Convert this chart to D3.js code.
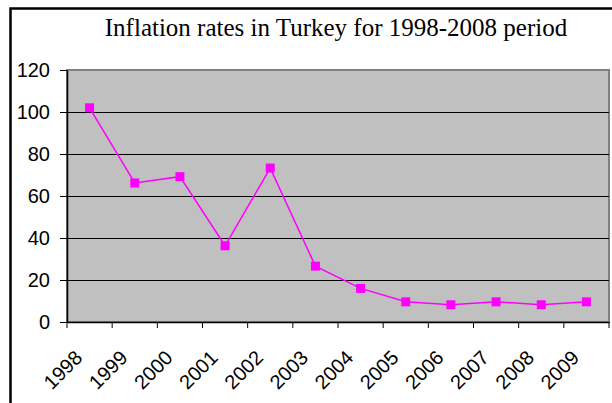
<!DOCTYPE html>
<html>
<head>
<meta charset="utf-8">
<script src="https://cdn.jsdelivr.net/npm/d3@7"></script>
<style>
  body { margin: 0; background: #fff; }
  svg { display: block; }
</style>
</head>
<body>
<div id="chart"></div>
<script>
// data
var years = ["1998", "1999", "2000", "2001", "2002", "2003", "2004", "2005", "2006", "2007", "2008", "2009"];
var inflation = [102, 66.2, 69.2, 36.3, 73.3, 26.6, 16.0, 9.6, 8.2, 9.6, 8.2, 9.6];
var yTicks = [0, 20, 40, 60, 80, 100, 120];
var title = "Inflation rates in Turkey for 1998-2008 period";

var svgWidth = 612;
var svgHeight = 403;

var margin = {
  top: 70,
  right: 3,
  bottom: 81,
  left: 67
};

var width = svgWidth - margin.left - margin.right;
var height = svgHeight - margin.top - margin.bottom;

var sans = "'Liberation Sans', Arial, sans-serif";

var svg = d3.select("#chart")
  .append("svg")
  .attr("width", svgWidth)
  .attr("height", svgHeight);

// outer chart frame (right and bottom edges fall outside the picture)
svg.append("rect")
  .attr("x", 10.5)
  .attr("y", 8.5)
  .attr("width", 640)
  .attr("height", 440)
  .attr("fill", "#fff")
  .attr("stroke", "#000")
  .attr("stroke-width", 2.5);

svg.append("text")
  .attr("x", 336)
  .attr("y", 36)
  .attr("text-anchor", "middle")
  .attr("font-family", "'Liberation Serif', 'Times New Roman', serif")
  .attr("font-size", "25px")
  .attr("fill", "#000")
  .text(title);

var chart = svg.append("g")
  .attr("transform", `translate(${margin.left}, ${margin.top})`);

// scales
var xScale = d3.scaleBand()
  .domain(years)
  .range([0, width]);

var yScale = d3.scaleLinear()
  .domain([0, 120])
  .range([height, 0]);

// plot area
chart.append("rect")
  .attr("width", width)
  .attr("height", height)
  .attr("fill", "#c0c0c0")
  .attr("stroke", "#808080")
  .attr("stroke-width", 2);

// gridlines
chart.append("g")
  .selectAll("line")
  .data(yTicks.filter(d => d > 0 && d < 120))
  .enter()
  .append("line")
  .attr("x1", 0)
  .attr("x2", width)
  .attr("y1", d => Math.round(yScale(d)) + 0.5)
  .attr("y2", d => Math.round(yScale(d)) + 0.5)
  .attr("stroke", "#000")
  .attr("stroke-width", 1.2);

// left axis
var leftAxis = d3.axisLeft(yScale)
  .tickValues(yTicks)
  .tickSize(7)
  .tickPadding(10)
  .tickSizeOuter(0);

var yAxis = chart.append("g")
  .call(leftAxis);
yAxis.select(".domain").attr("stroke", "#000").attr("stroke-width", 1.5);
yAxis.selectAll(".tick line").attr("stroke", "#000");
yAxis.selectAll("text")
  .attr("font-family", sans)
  .attr("font-size", "20px")
  .attr("fill", "#000");

// bottom axis, ticks between the categories
var bottomAxis = d3.axisBottom(xScale)
  .tickSize(0)
  .tickFormat("");

var xAxis = chart.append("g")
  .attr("transform", `translate(0, ${height})`)
  .call(bottomAxis);
xAxis.select(".domain").attr("stroke", "#000").attr("stroke-width", 1.5);

var bounds = years.map(d => xScale(d)).concat([width]);
xAxis.selectAll(".sep")
  .data(bounds)
  .enter()
  .append("line")
  .attr("class", "sep")
  .attr("x1", d => d)
  .attr("x2", d => d)
  .attr("y1", 0)
  .attr("y2", 6)
  .attr("stroke", "#000");

xAxis.selectAll(".lbl")
  .data(years)
  .enter()
  .append("text")
  .attr("class", "lbl")
  .attr("text-anchor", "end")
  .attr("transform", d => `translate(${xScale(d) + xScale.bandwidth() / 2 - 6}, 37) rotate(-45)`)
  .attr("font-family", sans)
  .attr("font-size", "20px")
  .attr("fill", "#000")
  .text(d => d);

// line and markers
var line = d3.line()
  .x((d, i) => xScale(years[i]) + xScale.bandwidth() / 2)
  .y(d => yScale(d));

chart.append("path")
  .datum(inflation)
  .attr("d", line)
  .attr("fill", "none")
  .attr("stroke", "#ff00ff")
  .attr("stroke-width", 1.5);

chart.selectAll(".marker")
  .data(inflation)
  .enter()
  .append("rect")
  .attr("class", "marker")
  .attr("x", (d, i) => xScale(years[i]) + xScale.bandwidth() / 2 - 4.5)
  .attr("y", d => yScale(d) - 4.5)
  .attr("width", 9)
  .attr("height", 9)
  .attr("fill", "#ff00ff");
</script>
</body>
</html>
